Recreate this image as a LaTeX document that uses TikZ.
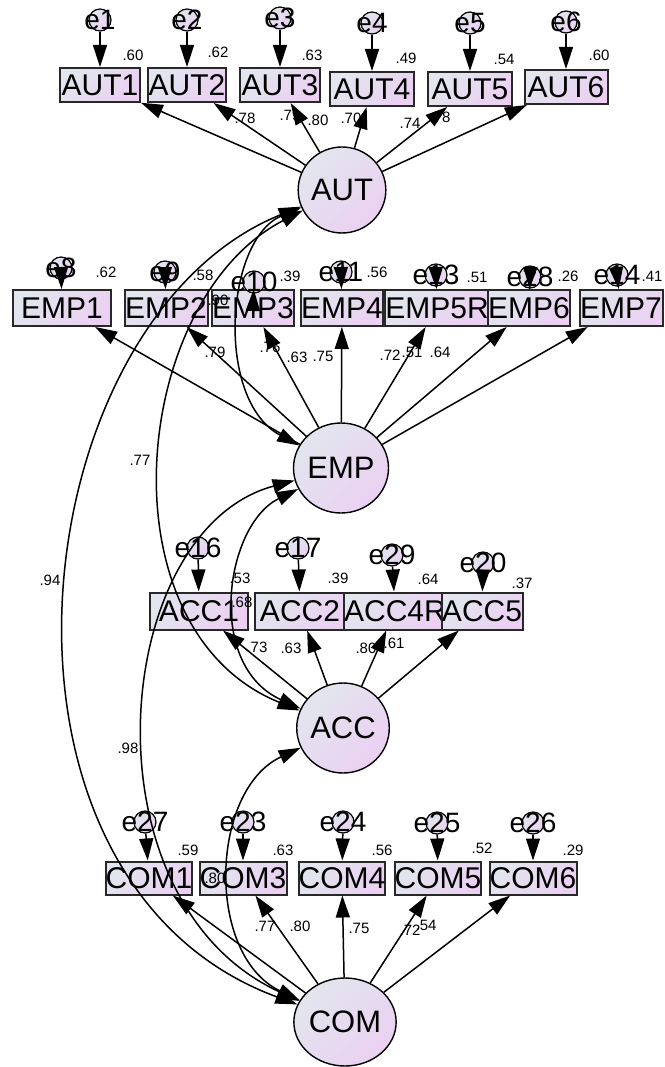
\documentclass[tikz,border=0pt]{standalone}
\usepackage{fontspec}
\setmainfont{Liberation Sans}
\usetikzlibrary{arrows.meta,shapes.geometric}

\definecolor{fillA}{RGB}{226,230,238}
\definecolor{fillB}{RGB}{235,208,242}
\definecolor{edgegray}{RGB}{40,40,40}

\tikzset{
	>={Triangle[length=22pt,width=14pt]},
	latent/.style={ellipse, draw=black, line width=1.4pt, top color=fillA, bottom color=fillB, shading angle=45, font=\fontsize{31}{33}\selectfont, inner sep=0pt},
	obs/.style={rectangle, draw=edgegray, line width=2pt, top color=fillA, bottom color=fillB, shading angle=45, font=\fontsize{30}{32}\selectfont, inner sep=0pt, minimum height=34pt},
	err/.style={circle, draw=black, line width=1.2pt, top color=fillA, bottom color=fillB, shading angle=45, minimum size=22pt, inner sep=0pt},
	elbl/.style={font=\fontsize{28}{30}\selectfont, inner sep=0pt},
	val/.style={font=\fontsize{15}{17}\selectfont, inner sep=0pt},
	load/.style={->, line width=1.5pt},
	cov/.style={<->, line width=1.5pt},
}

\begin{document}
\begin{tikzpicture}[x=1pt,y=-1pt]
	\fill[white] (0,0) rectangle (664,1067);
	\useasboundingbox (0,0) rectangle (664,1067);

	% latent variables
	\node[latent, minimum width=76pt, minimum height=86pt] (AUT) at (342,190) {AUT};
	\node[latent, minimum width=90pt, minimum height=90pt] (EMP) at (341,468) {EMP};
	\node[latent, minimum width=78pt, minimum height=90pt] (ACC) at (343,728) {ACC};
	\node[latent, minimum width=84pt, minimum height=88pt] (COM) at (345,1022) {COM};

	% AUT indicators
	\node[obs, minimum width=80pt] (AUT1) at (100,85) {AUT1};
	\node[obs, minimum width=78pt] (AUT2) at (187,85) {AUT2};
	\node[obs, minimum width=80pt] (AUT3) at (280,85) {AUT3};
	\node[obs, minimum width=84pt] (AUT4) at (372,89) {AUT4};
	\node[obs, minimum width=84pt] (AUT5) at (470,89) {AUT5};
	\node[obs, minimum width=83pt] (AUT6) at (566,87) {AUT6};

	\node[err, label={[elbl]center:e1}] (e1) at (100,20) {};
	\node[err, label={[elbl]center:e2}] (e2) at (187,20) {};
	\node[err, label={[elbl]center:e3}] (e3) at (280,18) {};
	\node[err, label={[elbl]center:e4}] (e4) at (372,23) {};
	\node[err, label={[elbl]center:e5}] (e5) at (470,23) {};
	\node[err, label={[elbl]center:e6}] (e6) at (566,22) {};

	\node[val] (rAUT1) at (133,55) {.60};
	\node[val] (rAUT2) at (218,52) {.62};
	\node[val] (rAUT3) at (312,55) {.63};
	\node[val] (rAUT4) at (406,58) {.49};
	\node[val] (rAUT5) at (504,59) {.54};
	\node[val] (rAUT6) at (599,55) {.60};

	% EMP indicators
	\node[obs, minimum width=98pt, minimum height=36pt] (EMP1) at (62,308) {EMP1};
	\node[obs, minimum width=83pt, minimum height=36pt] (EMP2) at (166,308) {EMP2};
	\node[obs, minimum width=77pt, minimum height=36pt] (EMP3) at (253,308) {EMP3};
	\node[obs, minimum width=78pt, minimum height=36pt] (EMP4) at (342,308) {EMP4};
	\node[obs, minimum width=88pt, minimum height=36pt] (EMP5R) at (437,308) {EMP5R};
	\node[obs, minimum width=82pt, minimum height=36pt] (EMP6) at (529,308) {EMP6};
	\node[obs, minimum width=83pt, minimum height=36pt] (EMP7) at (621,308) {EMP7};

	\node[err, label={[elbl]center:e8}] (e8) at (61,268) {};
	\node[err, label={[elbl]center:e9}] (e9) at (165,272) {};
	\node[err, label={[elbl]center:e10}] (e10) at (254,282) {};
	\node[err, label={[elbl]center:e11}] (e11) at (341,272) {};
	\node[err, label={[elbl]center:e13}] (e13) at (436,275) {};
	\node[err, label={[elbl]center:e28}] (e28) at (530,277) {};
	\node[err, label={[elbl]center:e14}] (e14) at (617,275) {};

	\node[val] (rEMP1) at (106,272) {.62};
	\node[val] (rEMP2) at (203,275) {.58};
	\node[val] (rEMP3) at (290,276) {.39};
	\node[val] (rEMP4) at (377,272) {.56};
	\node[val] (rEMP5R) at (477,277) {.51};
	\node[val] (rEMP6) at (568,276) {.26};
	\node[val] (rEMP7) at (652,276) {.41};

	% ACC indicators
	\node[obs, minimum width=98pt, minimum height=37pt] (ACC1) at (199,611) {ACC1};
	\node[obs, minimum width=90pt, minimum height=37pt] (ACC2) at (300,611) {ACC2};
	\node[obs, minimum width=84pt, minimum height=37pt] (ACC4R) at (395,611) {ACC4R};
	\node[obs, minimum width=81pt, minimum height=37pt] (ACC5) at (482,611) {ACC5};

	\node[err, label={[elbl]center:e16}] (e16) at (198,548) {};
	\node[err, label={[elbl]center:e17}] (e17) at (298,548) {};
	\node[err, label={[elbl]center:e29}] (e29) at (392,555) {};
	\node[err, label={[elbl]center:e20}] (e20) at (483,563) {};

	\node[val] (rACC1) at (240,578) {.53};
	\node[val] (rACC2) at (338,578) {.39};
	\node[val] (rACC4R) at (428,579) {.64};
	\node[val] (rACC5) at (522,583) {.37};

	% COM indicators
	\node[obs, minimum width=82pt, minimum height=33pt] (COM1) at (149,878) {COM1};
	\node[obs, minimum width=87pt, minimum height=33pt] (COM3) at (243,878) {COM3};
	\node[obs, minimum width=83pt, minimum height=33pt] (COM4) at (342,878) {COM4};
	\node[obs, minimum width=84pt, minimum height=33pt] (COM5) at (438,878) {COM5};
	\node[obs, minimum width=87pt, minimum height=33pt] (COM6) at (533,878) {COM6};

	\node[err, label={[elbl]center:e27}] (e27) at (145,822) {};
	\node[err, label={[elbl]center:e23}] (e23) at (243,822) {};
	\node[err, label={[elbl]center:e24}] (e24) at (343,822) {};
	\node[err, label={[elbl]center:e25}] (e25) at (437,823) {};
	\node[err, label={[elbl]center:e26}] (e26) at (533,823) {};

	\node[val] (rCOM1) at (188,850) {.59};
	\node[val] (rCOM3) at (283,850) {.63};
	\node[val] (rCOM4) at (382,850) {.56};
	\node[val] (rCOM5) at (482,848) {.52};
	\node[val] (rCOM6) at (573,850) {.29};

	% loadings
	\node[val] (lAUT1) at (245,118) {.78};
	\node[val] (lAUT2) at (290,115) {.79};
	\node[val] (lAUT3) at (318,120) {.80};
	\node[val] (lAUT4) at (351,118) {.70};
	\node[val] (lAUT5) at (410,123) {.74};
	\node[val] (lAUT6) at (440,117) {.78};

	\node[val] (lEMP1) at (215,352) {.79};
	\node[val] (lEMP2) at (270,347) {.76};
	\node[val] (lEMP3) at (297,357) {.63};
	\node[val] (lEMP4) at (323,356) {.75};
	\node[val] (lEMP5R) at (390,355) {.72};
	\node[val] (lEMP6) at (412,352) {.51};
	\node[val] (lEMP7) at (440,352) {.64};

	\node[val] (lACC1) at (257,647) {.73};
	\node[val] (lACC2) at (291,648) {.63};
	\node[val] (lACC4R) at (366,648) {.80};
	\node[val] (lACC5) at (394,643) {.61};

	\node[val] (lCOM1) at (265,926) {.77};
	\node[val] (lCOM3) at (300,926) {.80};
	\node[val] (lCOM4) at (359,928) {.75};
	\node[val] (lCOM5) at (410,930) {.72};
	\node[val] (lCOM6) at (426,925) {.54};

	% correlations
	\node[val] (cAE) at (218,300) {.90};
	\node[val] (cAA) at (140,460) {.77};
	\node[val] (cAC) at (50,580) {.94};
	\node[val] (cEA) at (242,602) {.68};
	\node[val] (cEC) at (128,748) {.98};
	\node[val] (cACC) at (215,878) {.80};

	\path [load] (e1) edge (AUT1);
	\path [load] (e2) edge (AUT2);
	\path [load] (e3) edge (AUT3);
	\path [load] (e4) edge (AUT4);
	\path [load] (e5) edge (AUT5);
	\path [load] (e6) edge (AUT6);
	\path [load] (e8) edge (EMP1);
	\path [load] (e9) edge (EMP2);
	\path [load] (e10) edge (EMP3);
	\path [load] (e11) edge (EMP4);
	\path [load] (e13) edge (EMP5R);
	\path [load] (e28) edge (EMP6);
	\path [load] (e14) edge (EMP7);
	\path [load] (e16) edge (ACC1);
	\path [load] (e17) edge (ACC2);
	\path [load] (e29) edge (ACC4R);
	\path [load] (e20) edge (ACC5);
	\path [load] (e27) edge (COM1);
	\path [load] (e23) edge (COM3);
	\path [load] (e24) edge (COM4);
	\path [load] (e25) edge (COM5);
	\path [load] (e26) edge (COM6);

	\path [load] (AUT) edge (AUT1);
	\path [load] (AUT) edge (AUT2);
	\path [load] (AUT) edge (AUT3);
	\path [load] (AUT) edge (AUT4);
	\path [load] (AUT) edge (AUT5);
	\path [load] (AUT) edge (AUT6);
	\path [load] (EMP) edge (EMP1);
	\path [load] (EMP) edge (EMP2);
	\path [load] (EMP) edge (EMP3);
	\path [load] (EMP) edge (EMP4);
	\path [load] (EMP) edge (EMP5R);
	\path [load] (EMP) edge (EMP6);
	\path [load] (EMP) edge (EMP7);
	\path [load] (ACC) edge (ACC1);
	\path [load] (ACC) edge (ACC2);
	\path [load] (ACC) edge (ACC4R);
	\path [load] (ACC) edge (ACC5);
	\path [load] (COM) edge (COM1);
	\path [load] (COM) edge (COM3);
	\path [load] (COM) edge (COM4);
	\path [load] (COM) edge (COM5);
	\path [load] (COM) edge (COM6);

	\draw [cov] (AUT) .. controls (225,240) and (215,400) .. (EMP);
	\draw [cov] (AUT) .. controls (130,300) and (100,630) .. (ACC);
	\draw [cov] (AUT) .. controls (20,320) and (-40,880) .. (COM);
	\draw [cov] (EMP) .. controls (225,525) and (205,665) .. (ACC);
	\draw [cov] (EMP) .. controls (110,530) and (80,900) .. (COM);
	\draw [cov] (ACC) .. controls (210,790) and (205,955) .. (COM);
\end{tikzpicture}
\end{document}
